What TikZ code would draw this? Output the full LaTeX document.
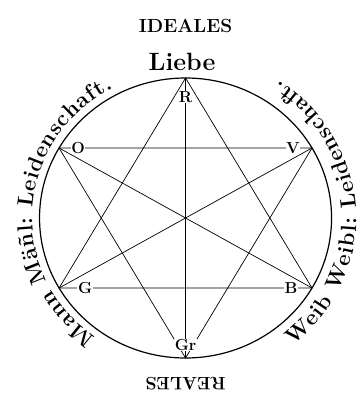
\documentclass[tikz,border=0pt]{standalone}
\usepackage{fontspec}
\usepackage{tikz}
\usepackage{xcolor}
\usetikzlibrary{decorations.text}

\begin{document}
\begin{tikzpicture}[x=1.043pt,y=1pt,
  strich/.style={line width=0.7pt},
  buchst/.style={fill=white,inner sep=0.6pt,font=\bfseries\fontsize{16}{16}\selectfont},
  bogentext/.style={decorate,decoration={text along path,text align=fit to path,text={#1}}}]

% ============================================================
% 参数区
% ============================================================

\def\Rad{140}     % 圆半径
\def\Rl{147}      % 左侧文字基线半径
\def\Rr{164}      % 右侧文字基线半径
\def\Bog{\bfseries\fontsize{22}{22}\selectfont}

\useasboundingbox (-177.9,-176) rectangle (168.3,218);

% ============================================================
% 圆和六个顶点
% ============================================================

\draw[line width=1.2pt] (0,0) circle[radius=\Rad];

\coordinate (R)  at (90:\Rad);
\coordinate (V)  at (30:\Rad);
\coordinate (B)  at (-30:\Rad);
\coordinate (Gr) at (-90:\Rad);
\coordinate (G)  at (210:\Rad);
\coordinate (O)  at (150:\Rad);

% 两个三角形 + 三条对角线
\draw[strich] (R) -- (G) -- (B) -- cycle;
\draw[strich] (Gr) -- (O) -- (V) -- cycle;
\draw[strich] (R) -- (Gr);
\draw[strich] (O) -- (B);
\draw[strich] (V) -- (G);

% ============================================================
% 顶点字母
% ============================================================

\node[buchst] (lR)  at ([yshift=-19pt]R)  {R};
\node[buchst] (lGr) at ([yshift=13pt]Gr)  {Gr};
\node[buchst] (lO)  at ([xshift=19pt]O)   {O};
\node[buchst] (lV)  at ([xshift=-19pt]V)  {V};
\node[buchst] (lG)  at ([xshift=26pt]G)   {G};
\node[buchst] (lB)  at ([xshift=-21pt]B)  {B};

% ============================================================
% 文字
% ============================================================

\node[font=\bfseries\fontsize{19}{19}\selectfont] (ideal) at (0,192) {IDEALES};
\node[font=\bfseries\fontsize{25}{25}\selectfont] (liebe) at (-3.4,156) {Liebe};
\node[font=\bfseries\fontsize{18}{18}\selectfont,rotate=180] (real) at (0,-166) {REALES};

% 沿圆弧的文字
\path[bogentext={|\Bog|Mann Mäñl: Leidenschaft.}]
  (234:\Rl) arc[start angle=234,end angle=118,radius=\Rl];
\path[bogentext={|\Bog|Weib Weibl: Leidenschaft.}]
  (-51:\Rr) arc[start angle=-51,end angle=57,radius=\Rr];

\end{tikzpicture}
\end{document}
